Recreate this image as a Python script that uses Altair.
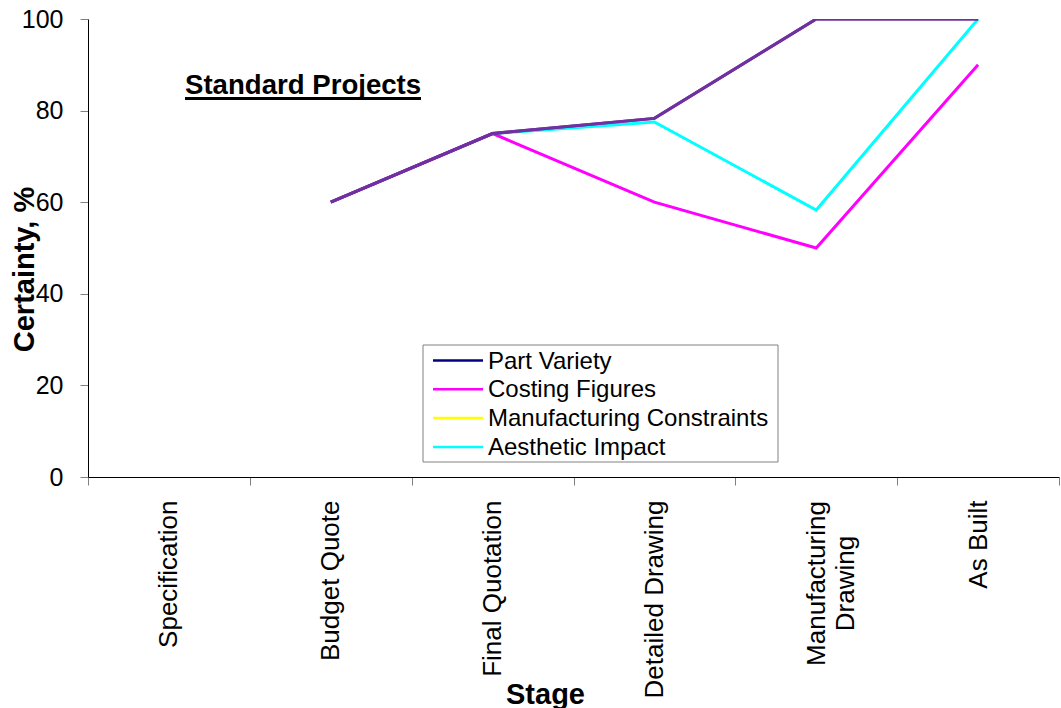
import altair as alt
import pandas as pd

# Stages along the project timeline
stages = ["Specification", "Budget Quote", "Final Quotation",
          "Detailed Drawing", "Manufacturing Drawing", "As Built"]

# Series and their colours (legend key colours / drawn line colours)
series_names = ["Part Variety", "Costing Figures",
                "Manufacturing Constraints", "Aesthetic Impact"]
legend_colors = ["#000080", "#FF00FF", "#FFFF00", "#00FFFF"]
line_colors = ["#7030A0", "#FF00FF", "#7030A0", "#00FFFF"]

# Certainty (%) at each stage; None where no estimate exists
part_variety = [None, 60, 75, 78.3, 100, 100]
costing_figures = [None, 60, 75, 60, 50, 90]
manufacturing_constraints = [None, 60, 75, 78.3, 100, 100]
aesthetic_impact = [None, 60, 75, 77.5, 58.3, 100]

series_values = [part_variety, costing_figures,
                 manufacturing_constraints, aesthetic_impact]

rows = []
for name, vals in zip(series_names, series_values):
    for i, (stage, v) in enumerate(zip(stages, vals)):
        if v is not None:
            rows.append({"series": name, "stage": stage, "idx": i, "certainty": v})
df = pd.DataFrame(rows)

FONT = "Liberation Sans"
MULTI = "datum.value == 'Manufacturing Drawing'"

x_enc = alt.X(
    "stage:N",
    sort=stages,
    scale=alt.Scale(type="band", domain=stages, paddingInner=0, paddingOuter=0),
    axis=alt.Axis(
        title="Stage",
        titleFont=FONT, titleFontSize=29, titleFontWeight="bold", titleColor="black",
        titleX=457, titleY=226, titleBaseline="alphabetic", titleAlign="center",
        labelAngle=-90, labelFont=FONT, labelFontSize=26, labelColor="black",
        labelAlign={"condition": {"test": MULTI, "value": "center"}, "value": "right"},
        labelPadding={"condition": {"test": MULTI, "value": 98}, "value": 15},
        labelBaseline="middle", labelLineHeight=29, labelLimit=400,
        labelOverlap=False, labelFlush=False,
        labelExpr="datum.value == 'Manufacturing Drawing' ? ['Manufacturing', 'Drawing'] : datum.label",
        tickBand="extent", tickSize=8, tickColor="#808080", tickWidth=1,
        domainColor="black", domainWidth=1, grid=False,
    ),
)

y_enc = alt.Y(
    "certainty:Q",
    scale=alt.Scale(domain=[0, 100], nice=False),
    axis=alt.Axis(
        values=[0, 20, 40, 60, 80, 100],
        title="Certainty, %",
        titleFont=FONT, titleFontSize=29, titleFontWeight="bold", titleColor="black",
        titleAngle=-90, titleX=-55, titleY=250, titleBaseline="alphabetic",
        titleAlign="center",
        labelFont=FONT, labelFontSize=25, labelColor="black", labelPadding=17,
        tickSize=8, tickColor="#808080", tickWidth=1,
        domainColor="black", domainWidth=1, grid=False,
    ),
)

# Draw order: lower lines first, the shared top line last
draw_order = ["Aesthetic Impact", "Costing Figures",
              "Manufacturing Constraints", "Part Variety"]
layers = []
for name in draw_order:
    color = line_colors[series_names.index(name)]
    layers.append(
        alt.Chart(df)
        .transform_filter(alt.datum.series == name)
        .mark_line(color=color, strokeWidth=3, clip=True)
        .encode(x=x_enc, y=y_enc, order=alt.Order("idx:Q"))
    )

one = pd.DataFrame({"k": [0]})

# Legend box with key lines and labels
layers.append(
    alt.Chart(one).mark_rect(fill="white", stroke="#808080", strokeWidth=1)
    .encode(x=alt.value(335), x2=alt.value(690), y=alt.value(326), y2=alt.value(443))
)
row_y = [341.5, 370.3, 399.1, 427.9]
for name, color, ry in zip(series_names, legend_colors, row_y):
    layers.append(
        alt.Chart(one).mark_rule(color=color, strokeWidth=2.5)
        .encode(x=alt.value(345), x2=alt.value(395), y=alt.value(ry))
    )
    layers.append(
        alt.Chart(one).mark_text(align="left", baseline="middle", font=FONT,
                                 fontSize=24, color="black")
        .encode(x=alt.value(400), y=alt.value(ry + 1), text=alt.value(name))
    )

# Underlined heading inside the plot
layers.append(
    alt.Chart(one).mark_text(align="left", baseline="alphabetic", font=FONT,
                             fontSize=27.6, fontWeight="bold", color="black")
    .encode(x=alt.value(97), y=alt.value(74.5), text=alt.value("Standard Projects"))
)
layers.append(
    alt.Chart(one).mark_rule(color="black", strokeWidth=3)
    .encode(x=alt.value(97), x2=alt.value(333), y=alt.value(79.5))
)

chart = (
    alt.layer(*layers)
    .properties(
        width=971, height=458,
        autosize=alt.AutoSizeParams(type="none"),
        padding={"left": 88, "top": 19, "right": 2, "bottom": 231},
        background="white",
    )
    .configure_view(strokeWidth=0)
)

chart.save("out.html", embed_options={"renderer": "svg", "actions": False})
